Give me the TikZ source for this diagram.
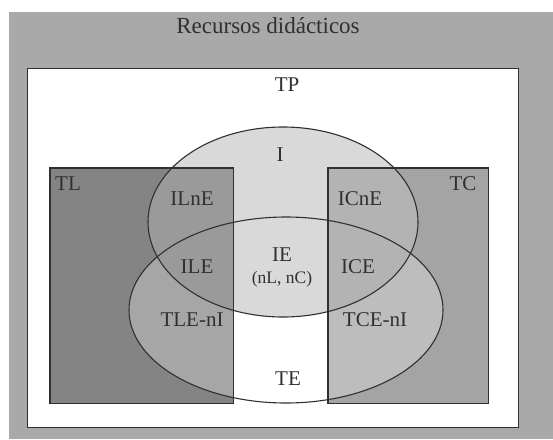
\documentclass[tikz,border=0pt]{standalone}
\usepackage{fontspec}
\setmainfont{Liberation Serif}
\usepackage{xcolor}
\usepackage{tikz}
\usetikzlibrary{positioning}

\definecolor{scan}{HTML}{A9A9A9}
\definecolor{ink}{HTML}{303030}
\definecolor{ilight}{HTML}{D9D9D9}
\definecolor{tldark}{HTML}{848484}
\definecolor{tlmid}{HTML}{9A9A9A}
\definecolor{tllight}{HTML}{A6A6A6}
\definecolor{tcdark}{HTML}{A4A4A4}
\definecolor{tcmid}{HTML}{B3B3B3}
\definecolor{tclight}{HTML}{BDBDBD}

\newcommand\pathI{(283,222) ellipse (135pt and 95pt)}
\newcommand\pathE{(286,310) ellipse (157pt and 93pt)}

\begin{document}
\begin{tikzpicture}[x=1pt,y=-1pt,
lbl/.style={font=\fontsize{21}{23}\selectfont,text=ink,inner sep=1pt},
small/.style={font=\fontsize{17.5}{19}\selectfont,text=ink,inner sep=1pt},
setbox/.style={anchor=north west,inner sep=0pt,minimum height=235pt},
outline/.style={draw=ink,line width=1.1pt}]
\useasboundingbox (0,0) rectangle (553,439);
\fill[scan] (9,12) rectangle (553,439);
\node[font=\fontsize{23}{25}\selectfont,text=ink] (title) at (268,26) {Recursos didácticos};
\node[outline,fill=white,anchor=north west,inner sep=0pt,minimum width=491pt,minimum height=359pt] (tp) at (27,68) {};
% I set, light part between the boxes
\fill[ilight] \pathI;
% TL box
\node[setbox,fill=tldark,minimum width=183pt] (tl) at (50,168) {};
\begin{scope}
\clip (tl.north west) rectangle (tl.south east);
\fill[tllight] \pathE;
\fill[tlmid] \pathI;
\end{scope}
% TC box
\node[setbox,fill=tcdark,minimum width=160pt] (tc) at (328,168) {};
\begin{scope}
\clip (tc.north west) rectangle (tc.south east);
\fill[tclight] \pathE;
\fill[tcmid] \pathI;
\end{scope}
\draw[outline] (tl.north west) rectangle (tl.south east);
\draw[outline] (tc.north west) rectangle (tc.south east);
\draw[outline] \pathI;
\draw[outline] \pathE;
% labels
\node[lbl] (tplbl) at (287,85) {TP};
\node[lbl] (ilbl) at (280,155) {I};
\node[lbl] (tllbl) at (68,184) {TL};
\node[lbl] (tclbl) at (463,184) {TC};
\node[lbl] (ilne) at (192,199) {ILnE};
\node[lbl] (icne) at (360,199) {ICnE};
\node[lbl] (ile) at (197,267) {ILE};
\node[lbl] (ie) at (282,255) {IE};
\node[small,below=7pt of ie] (ienote) {(nL, nC)};
\node[lbl] (ice) at (358,267) {ICE};
\node[lbl] (tleni) at (192,320) {TLE-nI};
\node[lbl] (tceni) at (375,320) {TCE-nI};
\node[lbl] (te) at (288,379) {TE};
\end{tikzpicture}
\end{document}
